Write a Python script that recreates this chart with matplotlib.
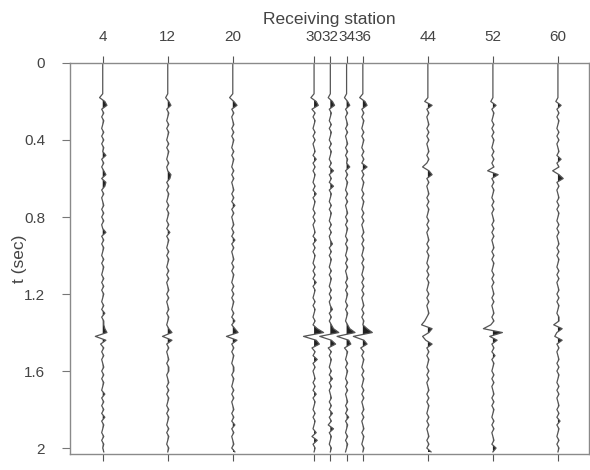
import numpy as np
import matplotlib.pyplot as plt

plt.rcParams['font.family'] = ['Liberation Sans', 'DejaVu Sans']

# receiving stations (trace positions on the x axis)
stations = [4, 12, 20, 30, 32, 34, 36, 44, 52, 60]

# sample interval of the traces (sec)
dt = 0.02

# trace amplitudes, one sample every dt, in tenths of a station spacing
tr04 = [0, 0, 0, 0, 0, 0, 0, 0, 0, -3,
        2, 4, -1, 1, -1, 1, 0, -1, 1, -1,
        1, -1, 1, 0, 3, -1, 1, -1, 1, 3,
        -1, 3, 2, -1, 1, -1, 0, 1, -1, 1,
        -1, 1, -1, 0, 3, -1, 1, -1, 1, 0,
        -1, 1, -1, 1, 0, -1, 1, -1, 1, -1,
        1, 0, -1, 1, -1, 2, -1, 1, 1, 2,
        4, -7, 3, -2, 1, -1, 1, -1, 0, 1,
        -1, 1, -1, 1, 0, -1, 2, -1, 1, -1,
        1, -1, 2, -1, 1, 0, -1, 1, -1, 1,
        0, 1]
tr12 = [0, 0, 0, 0, 0, 0, 0, 0, 0, -2,
        1, 3, -1, 1, 0, -1, 1, -1, 1, 0,
        -1, 1, -1, 1, 0, -1, 1, -1, 0, 3,
        2, -1, 1, -1, 1, 0, -1, 1, -1, 1,
        0, -1, 1, -1, 2, -1, 1, 0, -1, 1,
        -1, 1, 0, -1, 1, -1, 1, -1, 0, 1,
        -1, 1, -1, 0, 1, -1, 1, 0, -1, 1,
        4, -5, 4, -1, 1, -1, 0, 1, -1, 1,
        1, -1, 0, 1, -1, 1, -1, 1, 0, -1,
        1, -1, 1, 0, -1, 1, -1, 1, 0, -1,
        1, 0]
tr20 = [0, 0, 0, 0, 0, 0, 0, 0, 0, -3,
        1, 4, -1, 1, -1, 0, 1, -1, 1, -1,
        1, 0, -1, 1, -1, 1, 0, -1, 1, -1,
        1, -1, 0, 1, -1, 1, -1, 2, -1, 1,
        -1, 0, 1, -1, 1, -1, 2, -1, 1, -1,
        0, 1, -1, 1, -1, 1, 0, -1, 1, -1,
        1, -1, 1, 0, -1, 1, -1, 2, -1, 2,
        5, -6, 4, -1, 1, -1, 1, 0, -1, 1,
        1, -1, 1, 0, -1, 1, -1, 1, -1, 0,
        1, -1, 1, -1, 2, -1, 1, -1, 0, 1,
        -1, 2]
tr30 = [0, 0, 0, 0, 0, 0, 0, 0, 0, -3,
        2, 4, -2, 1, -1, 1, 0, -1, 1, -1,
        1, -1, 0, 1, -1, 2, -1, 1, -1, 1,
        0, -1, 1, -1, 2, -1, 1, 0, -1, 1,
        -1, 1, -1, 0, 1, -1, 2, -1, 1, -1,
        1, 0, -1, 1, -1, 1, -1, 2, -1, 1,
        0, -1, 1, -1, 1, 0, -1, 1, -1, 3,
        9, -10, 2, 5, -2, 1, -1, 3, -1, 1,
        -1, 0, 1, -1, 1, -1, 2, -1, 1, 0,
        -1, 1, -1, 1, 0, -1, 2, -2, 3, -1,
        1, 0]
tr32 = [0, 0, 0, 0, 0, 0, 0, 0, 0, -2,
        2, 4, -1, 1, 0, -1, 1, -1, 1, 0,
        -1, 1, -1, 1, 0, -1, 1, -1, 3, -1,
        1, -1, 3, -1, 1, 0, -1, 1, -1, 1,
        0, -1, 1, -1, 1, -1, 0, 2, -1, 1,
        -1, 1, 0, -1, 1, -1, 1, 0, -1, 1,
        -1, 1, -1, 0, 2, -1, 1, -1, 1, 3,
        8, -10, 1, 5, -2, 1, -1, 1, 0, -1,
        1, -1, 2, -1, 1, -1, 0, 1, -1, 1,
        -1, 2, -1, 1, -2, 3, -1, 1, 0, -1,
        1, 0]
tr34 = [0, 0, 0, 0, 0, 0, 0, 0, 0, -2,
        1, 3, -1, 1, -1, 0, 1, -1, 1, -1,
        0, 1, -1, 1, -1, 1, 0, 3, -1, 1,
        -1, 1, 0, -1, 1, -1, 1, -1, 0, 1,
        -1, 1, -1, 1, 0, -1, 1, -1, 1, 0,
        -1, 1, -1, 1, -1, 0, 1, -1, 1, -1,
        1, 0, -1, 1, -1, 1, 0, -1, 1, 3,
        8, -9, 2, 4, -2, 1, 0, -1, 1, -1,
        1, 0, -1, 1, -1, 1, -1, 0, 1, -1,
        1, -1, 2, -1, 1, 0, -1, 1, -1, 1,
        0, -1]
tr36 = [0, 0, 0, 0, 0, 0, 0, 0, 0, -3,
        2, 4, -1, 1, -1, 1, 0, -1, 1, -1,
        1, 0, -1, 1, -1, 1, -1, 4, -1, 1,
        -1, 1, 0, -1, 1, -1, 1, 0, -1, 1,
        -1, 1, -1, 0, 1, -1, 1, -1, 1, 0,
        -1, 1, -1, 1, 0, -1, 1, -1, 1, -1,
        1, -1, 0, 1, -1, 1, -1, 1, 0, 4,
        9, -9, 1, 4, -2, 1, -1, 1, 0, -1,
        1, -1, 1, 0, -1, 1, -1, 1, -1, 0,
        1, -1, 1, -1, 0, 1, -1, 1, 0, -1,
        1, 0]
tr44 = [0, 0, 0, 0, 0, 0, 0, 0, 0, 0,
        -3, 4, -1, 1, -1, 0, 1, -1, 1, -1,
        1, -1, 0, 1, -1, 1, -1, -5, 1, 4,
        -1, 1, -1, 0, 1, -1, 1, -1, 1, 0,
        -1, 1, -1, 1, -1, 0, 1, -1, 1, -1,
        1, 0, -1, 1, -1, 1, -1, 1, 0, -1,
        1, -1, 1, -1, 0, 1, -1, -3, -6, 4,
        1, -5, -2, 4, -1, 1, -1, 1, 0, -1,
        1, -1, 1, -1, 0, 1, -1, 1, -1, 1,
        0, -1, 1, -1, 1, -1, 0, 1, -1, 1,
        -1, 3]
tr52 = [0, 0, 0, 0, 0, 0, 0, 0, 0, 0,
        -2, 3, -1, 1, 0, -1, 1, -1, 1, -1,
        1, 0, -1, 1, -1, 1, -1, 1, -5, 5,
        -1, 1, -1, 1, 0, -1, 1, -1, 1, -1,
        0, 1, -1, 1, -1, 1, -1, 0, 1, -1,
        1, -1, 1, 0, -1, 1, -1, 1, -1, 0,
        1, -1, 1, -1, 0, 1, -1, 1, -2, -9,
        9, -3, 4, -1, 1, -1, 2, -1, 1, 0,
        -1, 1, -1, 1, -1, 0, 1, -1, 1, -1,
        1, 0, -1, 1, -1, 1, -1, 0, 1, -1,
        3, 0]
tr60 = [0, 0, 0, 0, 0, 0, 0, 0, 0, 0,
        -2, 3, -1, 1, -1, 1, 0, -1, 1, -1,
        1, -1, 0, 1, -1, 3, -1, 1, -5, 1,
        5, -1, 1, -1, 0, 1, -1, 1, -1, 1,
        0, -1, 1, -1, 1, -1, 0, 1, -1, 1,
        -1, 1, 0, -1, 1, -1, 1, -1, 0, 1,
        -1, 1, -1, 1, 0, -1, 1, 1, -4, 4,
        -1, -3, 4, -1, 1, -1, 0, 1, -1, 1,
        -1, 1, 0, -1, 1, -1, 1, -1, 0, 1,
        -1, 1, -1, 2, -1, 1, 0, -1, 1, -1,
        1, 0]

traces = [tr04, tr12, tr20, tr30, tr32, tr34, tr36, tr44, tr52, tr60]
gain = 0.13

tick_t = [0, 0.4, 0.8, 1.2, 1.6, 2]
tick_t_labels = ['0', '0.4', '0.8', '1.2', '1.6', '2']

fig = plt.figure(figsize=(5.9, 4.7), dpi=100)
ax = fig.add_axes([0.119, 0.034, 0.879, 0.832])

for st, tr in zip(stations, traces):
    a = np.array(tr, dtype=float) * gain
    t = np.arange(len(a)) * dt
    x = st + a
    ax.plot(x, t, color='#555555', lw=0.9)
    ax.fill_betweenx(t, st, x, where=a > 0, interpolate=True,
                     color='#222222', lw=0)

ax.set_xlim(0, 63.8)
ax.set_ylim(2.031, 0)

ax.set_xticks(stations)
ax.set_xticklabels([str(s) for s in stations])
ax.set_yticks(tick_t)
ax.set_yticklabels(tick_t_labels)

ax.xaxis.set_label_position('top')
ax.set_xlabel('Receiving station', fontsize=12.5, color='#444444', labelpad=4)
ax.set_ylabel('t (sec)', fontsize=12.5, color='#444444', labelpad=-2)

ax.tick_params(axis='x', which='both', top=True, bottom=True,
               labeltop=True, labelbottom=False, direction='out',
               length=5, width=0.8, color='#555555', pad=9,
               labelsize=11, labelcolor='#444444')
ax.tick_params(axis='y', direction='out', length=6, width=0.8,
               color='#777777', pad=12, labelsize=11, labelcolor='#444444')

for s in ax.spines.values():
    s.set_color('#8a8a8a')
    s.set_linewidth(1.0)

fig.savefig('out.png', dpi=100)
